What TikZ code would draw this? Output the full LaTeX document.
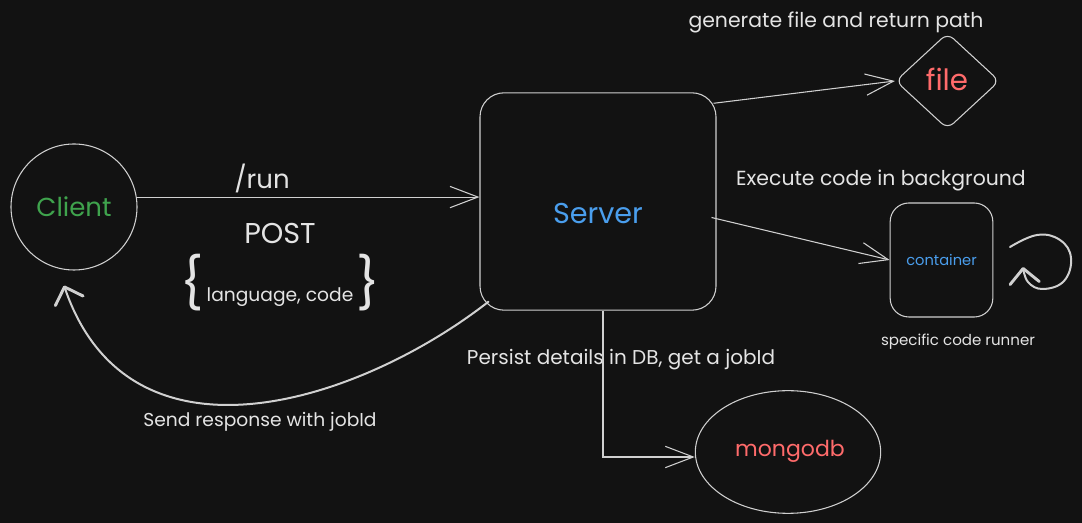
\documentclass[tikz,border=0pt]{standalone}
\usepackage{fontspec}
\setmainfont{Poppins}
\usetikzlibrary{arrows.meta,shapes.geometric,calc}
\definecolor{bg}{HTML}{121212}
\definecolor{ink}{HTML}{D0D0D0}
\definecolor{txt}{HTML}{E4E4E4}
\definecolor{cgreen}{HTML}{3FA34D}
\definecolor{cblue}{HTML}{4A9EED}
\definecolor{cred}{HTML}{FF6B6B}
\begin{document}
\begin{tikzpicture}[x=0.75pt,y=-0.75pt,
  shapebox/.style={draw=ink, line width=0.8pt, inner sep=0pt},
  lbl/.style={text=txt, inner sep=0pt},
  arr/.style={draw=ink, line width=0.8pt, -{Straight Barb[length=21pt,width=16pt,line width=0.8pt]}},
  thickarr/.style={draw=ink, line width=1.5pt, line cap=round, -{Straight Barb[length=11pt,width=22pt,line width=2.2pt,round]}}]
\fill[bg] (0,0) rectangle (1082,523);
\useasboundingbox (0,0) rectangle (1082,523);

% shapes
\node[circle, shapebox, minimum size=94.5pt] (client) at (74,207) {};
\node[rectangle, shapebox, rounded corners=18pt, minimum width=177pt, minimum height=163pt] (server) at (598,201.5) {};
\node[diamond, shapebox, aspect=1.1, rounded corners=6pt, minimum width=78pt, minimum height=72pt] (file) at (947.5,81) {};
\node[rectangle, shapebox, rounded corners=14pt, minimum width=77pt, minimum height=85.5pt] (container) at (941.5,260) {};
\node[ellipse, shapebox, minimum width=139pt, minimum height=92pt] (mongodb) at (788,452) {};

% shape texts
\node[text=cgreen, inner sep=0, font=\fontsize{19.5}{22}\selectfont] (clienttxt) at (74,207) {Client};
\node[text=cblue, inner sep=0, font=\fontsize{21.5}{24}\selectfont] (servertxt) at (598,214) {Server};
\node[text=cred, inner sep=0, font=\fontsize{22}{24}\selectfont] (filetxt) at (947,79) {file};
\node[text=cblue, inner sep=0, font=\fontsize{11}{13}\selectfont] (containertxt) at (941.5,260) {container};
\node[text=cred, inner sep=0, font=\fontsize{16.5}{20}\selectfont] (mongodbtxt) at (790,451) {mongodb};

% labels
\node[lbl, font=\fontsize{19.5}{22}\selectfont] (run) at (262,178) {/run};
\node[lbl, font=\fontsize{21.5}{24}\selectfont] (post) at (280,233) {POST};
\node[lbl, font=\fontsize{14}{16}\selectfont] (body) at (280,283) {{\fontsize{38}{38}\selectfont\{}\,language, code\,{\fontsize{38}{38}\selectfont\}}};
\node[lbl, font=\fontsize{15.3}{18}\selectfont] (gen) at (836,22) {generate file and return path};
\node[lbl, font=\fontsize{15.3}{18}\selectfont] (exec) at (881,180) {Execute code in background};
\node[lbl, font=\fontsize{11.3}{13}\selectfont] (runner) at (958,342) {specific code runner};
\node[lbl, font=\fontsize{15}{18}\selectfont] (persist) at (621,360) {Persist details in DB, get a jobId};
\node[lbl, font=\fontsize{14}{17}\selectfont] (send) at (260,422) {Send response with jobId};

% connectors
\draw[arr] (client.9) -- (client.9 -| server.west);
\draw[arr] ($(server.north east)+(-3,11)$) -- (file.west);
\draw[arr] ($(server.east)+(-5,16)$) -- (container.west);
\draw[arr] ($(server.south)+(5,0)$) |- ($(mongodb.west)+(0,5)$);
\draw[thickarr] ($(server.south west)+(9,-9)$) .. controls (360,402) and (130,478) .. ($(client.south)+(-10,15)$);

% self loop next to container
\draw[thickarr] plot[smooth, tension=0.7] coordinates {(1010,247) (1037,235) (1060,240) (1071,258) (1064,281) (1043,289) (1028,282) (1023,267)};
\end{tikzpicture}
\end{document}
